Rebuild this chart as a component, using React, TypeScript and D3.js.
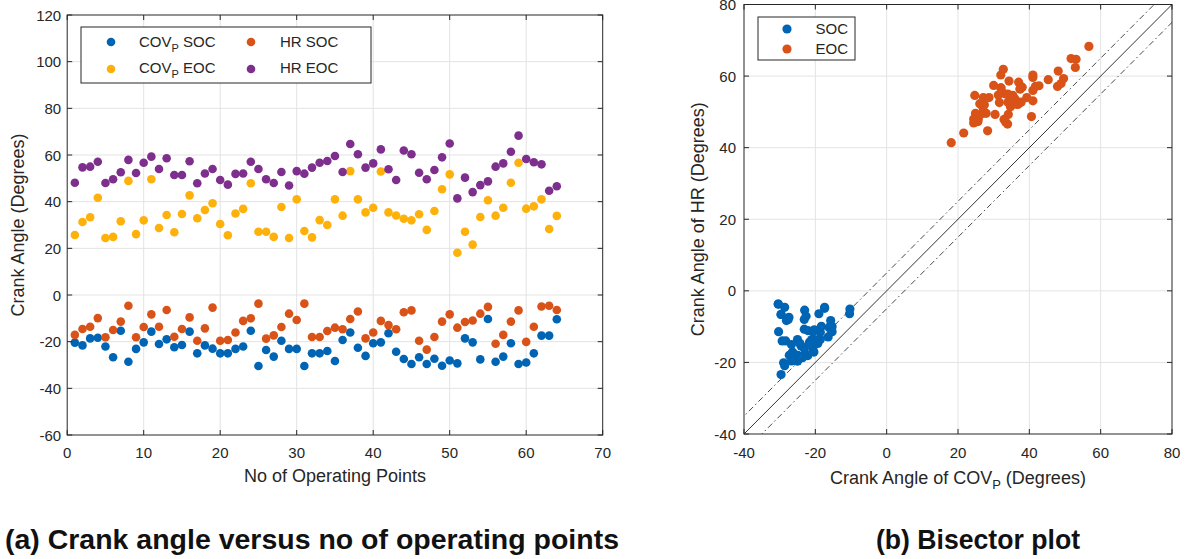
import React from "react";
import * as d3 from "d3";

// Crank angle (degrees) for each operating point, per indicator
const covSOC = [-20.4, -21.6, -18.6, -18.3, -22.1, -26.7, -15.3, -28.6, -23.1, -20.3, -15.7, -21.0, -19.0, -22.4, -21.4, -15.7, -25.0, -21.6, -23.0, -25.0, -25.0, -23.1, -22.1, -15.3, -30.4, -23.6, -26.4, -19.6, -23.1, -23.1, -30.4, -25.0, -25.0, -24.0, -28.3, -19.3, -16.1, -22.6, -26.1, -20.7, -20.3, -16.4, -24.3, -27.4, -29.6, -26.7, -29.6, -27.3, -30.3, -28.1, -29.3, -18.6, -20.3, -27.6, -10.3, -28.6, -26.4, -20.7, -29.6, -28.9, -25.0, -17.4, -17.4, -10.4];
const hrSOC = [-17.1, -14.6, -13.6, -9.9, -18.1, -15.0, -11.4, -4.6, -18.1, -13.7, -8.3, -13.6, -6.4, -17.9, -14.6, -9.6, -19.6, -14.3, -5.4, -19.6, -19.3, -16.1, -11.1, -10.0, -3.7, -18.7, -17.3, -13.7, -8.0, -10.7, -3.7, -18.0, -18.0, -15.4, -14.0, -14.7, -10.3, -7.1, -18.6, -16.1, -11.1, -12.9, -14.7, -7.4, -6.6, -19.6, -23.4, -18.0, -11.4, -8.3, -14.0, -11.6, -10.9, -8.0, -5.1, -20.9, -17.1, -11.4, -6.6, -20.1, -13.6, -4.9, -4.6, -6.4];
const covEOC = [25.7, 31.3, 33.3, 41.7, 24.4, 24.9, 31.6, 48.9, 26.1, 32.0, 49.6, 28.7, 34.3, 26.9, 34.7, 42.7, 32.9, 36.4, 39.3, 30.4, 25.6, 34.9, 36.9, 47.9, 27.1, 27.1, 24.9, 37.7, 24.4, 41.0, 27.4, 24.7, 32.1, 30.0, 41.0, 34.0, 53.1, 41.0, 35.4, 37.4, 52.9, 35.4, 34.1, 32.7, 32.0, 34.6, 27.9, 36.0, 45.3, 51.7, 18.1, 27.1, 21.6, 33.4, 40.6, 34.0, 37.4, 48.1, 56.7, 37.0, 38.0, 41.0, 28.3, 33.9];
const hrEOC = [48.1, 54.7, 55.0, 57.1, 48.0, 49.6, 52.6, 57.9, 52.3, 56.7, 59.3, 54.0, 58.6, 51.4, 51.4, 57.3, 47.9, 52.1, 54.0, 49.3, 47.3, 51.9, 52.1, 57.1, 54.0, 49.6, 48.0, 52.7, 46.9, 53.1, 52.0, 54.6, 56.7, 57.4, 59.6, 52.7, 64.7, 60.3, 54.6, 56.4, 62.4, 53.9, 49.3, 61.9, 60.3, 52.4, 49.6, 53.6, 59.0, 64.9, 41.4, 50.3, 44.1, 47.1, 48.7, 55.0, 56.4, 61.4, 68.3, 58.3, 56.9, 56.0, 44.7, 46.6];

const leftXTicks = [0, 10, 20, 30, 40, 50, 60, 70];
const leftYTicks = [-60, -40, -20, 0, 20, 40, 60, 80, 100, 120];
const rightTicks = [-40, -20, 0, 20, 40, 60, 80];
const bandOffset = 5; // dash-dot tolerance band around the bisector

const BLUE = "#0064B4";
const RED = "#D95319";
const YELLOW = "#FDB10A";
const PURPLE = "#7E2F8E";
const AXIS = "#262626";
const GRID = "#e3e3e3";
const FONT = "'Liberation Sans', Arial, Helvetica, sans-serif";

const opIndex = covSOC.map((_, i) => i + 1);

export default function App() {
  // left panel scales
  const lx = d3.scaleLinear().domain([0, 70]).range([67.2, 602.7]);
  const ly = d3.scaleLinear().domain([-60, 120]).range([435, 15]);
  // right panel scales
  const rx = d3.scaleLinear().domain([-40, 80]).range([744, 1172]);
  const ry = d3.scaleLinear().domain([-40, 80]).range([434, 4.5]);

  const leftSeries = [
    { vals: covSOC, color: BLUE },
    { vals: hrSOC, color: RED },
    { vals: covEOC, color: YELLOW },
    { vals: hrEOC, color: PURPLE },
  ];

  const socPairs = covSOC.map((c, i) => [c, hrSOC[i]]);
  const eocPairs = covEOC.map((c, i) => [c, hrEOC[i]]);

  const line = d3
    .line<number[]>()
    .x((d) => rx(d[0]))
    .y((d) => ry(d[1]));
  const diag = (off: number) =>
    line([
      [-60, -60 + off],
      [100, 100 + off],
    ]) as string;

  const tickLen = 5;

  return (
    <svg
      width={1191}
      height={559}
      style={{ position: "absolute", left: 0, top: 0, background: "#fff" }}
      fontFamily={FONT}
    >
      <defs>
        <clipPath id="rclip">
          <rect x={rx(-40)} y={ry(80)} width={rx(80) - rx(-40)} height={ry(-40) - ry(80)} />
        </clipPath>
      </defs>

      {/* ---------- (a) crank angle vs operating point ---------- */}
      <g>
        {leftXTicks.slice(1, -1).map((t) => (
          <line key={"gx" + t} x1={lx(t)} x2={lx(t)} y1={ly(-60)} y2={ly(120)} stroke={GRID} />
        ))}
        {leftYTicks.slice(1, -1).map((t) => (
          <line key={"gy" + t} x1={lx(0)} x2={lx(70)} y1={ly(t)} y2={ly(t)} stroke={GRID} />
        ))}
        {leftSeries.map((s, si) =>
          s.vals.map((v, i) => (
            <circle key={si + "-" + i} cx={lx(opIndex[i])} cy={ly(v)} r={4.3} fill={s.color} />
          ))
        )}
        <rect x={lx(0)} y={ly(120)} width={lx(70) - lx(0)} height={ly(-60) - ly(120)} fill="none" stroke={AXIS} strokeWidth={1} />
        {leftXTicks.map((t) => (
          <g key={"tx" + t}>
            <line x1={lx(t)} x2={lx(t)} y1={ly(-60)} y2={ly(-60) - tickLen} stroke={AXIS} />
            <line x1={lx(t)} x2={lx(t)} y1={ly(120)} y2={ly(120) + tickLen} stroke={AXIS} />
            <text x={lx(t)} y={ly(-60) + 23} textAnchor="middle" fontSize={15} fill={AXIS}>
              {t}
            </text>
          </g>
        ))}
        {leftYTicks.map((t) => (
          <g key={"ty" + t}>
            <line x1={lx(0)} x2={lx(0) + tickLen} y1={ly(t)} y2={ly(t)} stroke={AXIS} />
            <line x1={lx(70)} x2={lx(70) - tickLen} y1={ly(t)} y2={ly(t)} stroke={AXIS} />
            <text x={lx(0) - 6} y={ly(t) + 5.5} textAnchor="end" fontSize={15} fill={AXIS}>
              {t}
            </text>
          </g>
        ))}
        <text x={(lx(0) + lx(70)) / 2} y={482} textAnchor="middle" fontSize={18} fill={AXIS}>
          No of Operating Points
        </text>
        <text transform={`translate(24, ${(ly(-60) + ly(120)) / 2}) rotate(-90)`} textAnchor="middle" fontSize={18} fill={AXIS}>
          Crank Angle (Degrees)
        </text>

        {/* legend */}
        <rect x={81} y={27} width={290} height={56} fill="#fff" stroke={AXIS} />
        <circle cx={111} cy={42} r={4.3} fill={BLUE} />
        <circle cx={111} cy={69} r={4.3} fill={YELLOW} />
        <circle cx={251} cy={42} r={4.3} fill={RED} />
        <circle cx={251} cy={69} r={4.3} fill={PURPLE} />
        <text x={139} y={47} fontSize={15} fill={AXIS}>
          COV<tspan fontSize={11} dy={5}>P</tspan>
          <tspan dy={-5}> SOC</tspan>
        </text>
        <text x={139} y={73} fontSize={15} fill={AXIS}>
          COV<tspan fontSize={11} dy={5}>P</tspan>
          <tspan dy={-5}> EOC</tspan>
        </text>
        <text x={280} y={47} fontSize={15} fill={AXIS}>HR SOC</text>
        <text x={280} y={73} fontSize={15} fill={AXIS}>HR EOC</text>
      </g>

      {/* ---------- (b) bisector plot ---------- */}
      <g>
        {rightTicks.slice(1, -1).map((t) => (
          <g key={"rg" + t}>
            <line x1={rx(t)} x2={rx(t)} y1={ry(-40)} y2={ry(80)} stroke={GRID} />
            <line x1={rx(-40)} x2={rx(80)} y1={ry(t)} y2={ry(t)} stroke={GRID} />
          </g>
        ))}
        <g clipPath="url(#rclip)">
          <path d={diag(0)} stroke="#333" strokeWidth={1} fill="none" />
          <path d={diag(bandOffset)} stroke="#333" strokeWidth={0.9} strokeDasharray="6 3 1.5 3" fill="none" />
          <path d={diag(-bandOffset)} stroke="#333" strokeWidth={0.9} strokeDasharray="6 3 1.5 3" fill="none" />
        </g>
        {socPairs.map((p, i) => (
          <circle key={"s" + i} cx={rx(p[0])} cy={ry(p[1])} r={4.6} fill={BLUE} />
        ))}
        {eocPairs.map((p, i) => (
          <circle key={"e" + i} cx={rx(p[0])} cy={ry(p[1])} r={4.6} fill={RED} />
        ))}
        <rect x={rx(-40)} y={ry(80)} width={rx(80) - rx(-40)} height={ry(-40) - ry(80)} fill="none" stroke={AXIS} />
        {rightTicks.map((t) => (
          <g key={"rt" + t}>
            <line x1={rx(t)} x2={rx(t)} y1={ry(-40)} y2={ry(-40) - tickLen} stroke={AXIS} />
            <line x1={rx(t)} x2={rx(t)} y1={ry(80)} y2={ry(80) + tickLen} stroke={AXIS} />
            <line x1={rx(-40)} x2={rx(-40) + tickLen} y1={ry(t)} y2={ry(t)} stroke={AXIS} />
            <line x1={rx(80)} x2={rx(80) - tickLen} y1={ry(t)} y2={ry(t)} stroke={AXIS} />
            <text x={rx(t)} y={ry(-40) + 24} textAnchor="middle" fontSize={15} fill={AXIS}>
              {t}
            </text>
            <text x={rx(-40) - 8} y={ry(t) + 5.5} textAnchor="end" fontSize={15} fill={AXIS}>
              {t}
            </text>
          </g>
        ))}
        <text x={(rx(-40) + rx(80)) / 2} y={484} textAnchor="middle" fontSize={18} fill={AXIS}>
          Crank Angle of COV<tspan fontSize={13} dy={5}>P</tspan>
          <tspan dy={-5}> (Degrees)</tspan>
        </text>
        <text transform={`translate(704, ${(ry(-40) + ry(80)) / 2}) rotate(-90)`} textAnchor="middle" fontSize={18} fill={AXIS}>
          Crank Angle of HR (Degrees)
        </text>

        {/* legend */}
        <rect x={758} y={17} width={97} height={43} fill="#fff" stroke={AXIS} />
        <circle cx={787} cy={29} r={4.6} fill={BLUE} />
        <circle cx={787} cy={49} r={4.6} fill={RED} />
        <text x={848} y={34} textAnchor="end" fontSize={15} fill={AXIS}>SOC</text>
        <text x={848} y={54} textAnchor="end" fontSize={15} fill={AXIS}>EOC</text>
      </g>

      {/* captions */}
      <text x={5} y={549} fontSize={27} fontWeight="bold" fill="#111" textLength={614} lengthAdjust="spacingAndGlyphs">
        (a) Crank angle versus no of operating points
      </text>
      <text x={876} y={549} fontSize={27} fontWeight="bold" fill="#111" textLength={204} lengthAdjust="spacingAndGlyphs">
        (b) Bisector plot
      </text>
    </svg>
  );
}
